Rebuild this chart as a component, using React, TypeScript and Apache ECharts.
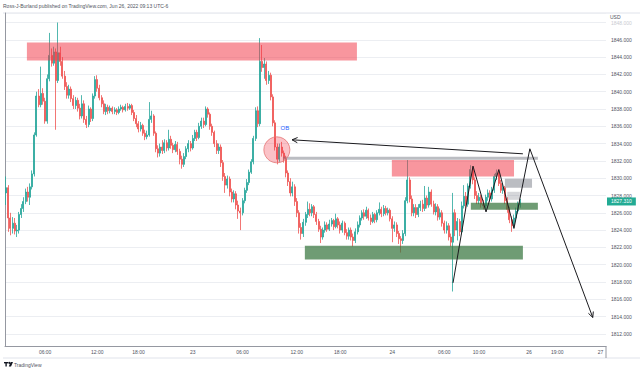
import React, { useEffect, useRef } from 'react';
import * as echarts from 'echarts';

// ---- data ----
const TOTAL_SLOTS = 277;
const lastPrice = 1827.31;

// [open, close, low, high] per 15-minute bar
const candles: number[][] = [
  [1828.3,1828.9,1826.9,1830.2],[1828.9,1825.4,1823.8,1829.2],[1825.4,1824.2,1823.4,1826.0],[1824.2,1824.8,1823.6,1825.5],
  [1824.8,1823.9,1823.5,1825.4],[1823.9,1824.0,1823.2,1824.6],[1824.0,1825.8,1823.6,1826.1],[1825.8,1826.5,1825.4,1827.0],
  [1826.5,1827.3,1826.1,1827.8],[1827.3,1828.4,1827.0,1828.8],[1828.4,1827.8,1827.3,1829.0],[1827.8,1829.0,1826.9,1829.4],
  [1829.0,1830.5,1828.7,1830.9],[1830.5,1835.0,1830.2,1835.3],[1835.0,1839.5,1834.8,1840.0],[1839.5,1838.5,1838.2,1840.3],
  [1838.5,1839.8,1838.2,1842.9],[1839.8,1838.9,1838.5,1840.4],[1838.9,1836.6,1836.3,1839.3],[1836.6,1841.5,1836.3,1842.0],
  [1841.5,1844.2,1841.2,1846.8],[1844.2,1843.3,1842.9,1845.0],[1843.3,1844.6,1843.0,1845.2],[1844.6,1841.3,1835.6,1845.0],
  [1841.3,1844.5,1841.0,1848.0],[1844.5,1843.5,1843.0,1845.2],[1843.5,1841.8,1841.5,1844.0],[1841.8,1840.6,1840.2,1842.4],
  [1840.6,1839.6,1839.2,1841.1],[1839.6,1840.3,1839.2,1840.8],[1840.3,1839.2,1838.8,1840.6],[1839.2,1838.4,1838.0,1839.6],
  [1838.4,1839.0,1838.0,1839.4],[1839.0,1838.1,1837.7,1839.3],[1838.1,1837.2,1836.8,1838.6],[1837.2,1838.6,1836.9,1839.6],
  [1838.6,1836.8,1836.4,1839.0],[1836.8,1836.2,1835.8,1837.2],[1836.2,1838.0,1835.9,1838.4],[1838.0,1836.9,1836.5,1838.2],
  [1836.9,1839.5,1836.6,1839.8],[1839.5,1841.4,1839.2,1841.8],[1841.4,1840.4,1840.0,1841.9],[1840.4,1839.3,1839.0,1840.8],
  [1839.3,1838.6,1838.2,1839.6],[1838.6,1837.7,1837.4,1839.0],[1837.7,1838.2,1837.3,1838.6],[1838.2,1837.8,1837.4,1838.5],
  [1837.8,1838.1,1837.5,1838.4],[1838.1,1837.7,1837.4,1838.3],[1837.7,1837.9,1837.4,1838.2],[1837.9,1837.6,1837.3,1838.1],
  [1837.6,1838.0,1837.4,1838.3],[1838.0,1838.2,1837.8,1838.5],[1838.2,1837.9,1837.6,1838.4],[1837.9,1838.3,1837.7,1838.6],
  [1838.3,1838.1,1837.8,1838.7],[1838.1,1838.4,1837.9,1838.6],[1838.4,1837.6,1837.3,1838.6],[1837.6,1836.9,1836.6,1837.9],
  [1836.9,1836.3,1835.9,1837.3],[1836.3,1835.7,1835.3,1836.6],[1835.7,1836.1,1835.4,1836.5],[1836.1,1835.2,1834.9,1836.3],
  [1835.2,1834.8,1834.4,1835.6],[1834.8,1835.0,1834.5,1835.5],[1835.0,1836.8,1834.8,1838.8],[1836.8,1837.2,1836.4,1837.8],
  [1837.2,1835.2,1834.9,1837.4],[1835.2,1833.4,1833.0,1835.4],[1833.4,1832.9,1832.4,1833.8],[1832.9,1833.6,1832.5,1834.0],
  [1833.6,1833.2,1832.8,1834.4],[1833.2,1834.1,1832.9,1834.5],[1834.1,1833.5,1833.1,1834.4],[1833.5,1834.5,1833.2,1835.6],
  [1834.5,1833.8,1833.4,1834.9],[1833.8,1833.3,1832.9,1834.1],[1833.3,1833.9,1833.0,1834.3],[1833.9,1833.1,1832.7,1834.2],
  [1833.1,1832.2,1831.6,1833.4],[1832.2,1831.6,1831.1,1832.6],[1831.6,1832.5,1831.3,1832.9],[1832.5,1833.4,1832.2,1833.7],
  [1833.4,1834.0,1833.0,1834.4],[1834.0,1833.5,1833.1,1834.3],[1833.5,1834.6,1833.3,1835.0],[1834.6,1835.3,1834.3,1835.6],
  [1835.3,1834.7,1834.3,1835.6],[1834.7,1836.0,1834.5,1836.4],[1836.0,1836.6,1835.7,1837.0],[1836.6,1836.2,1835.8,1837.0],
  [1836.2,1838.0,1836.0,1838.3],[1838.0,1837.4,1837.0,1838.2],[1837.4,1836.0,1835.6,1837.6],[1836.0,1835.3,1834.9,1836.3],
  [1835.3,1834.0,1833.6,1835.5],[1834.0,1833.2,1832.8,1834.4],[1833.2,1833.6,1832.8,1834.0],[1833.6,1831.8,1831.3,1833.9],
  [1831.8,1830.2,1829.7,1832.1],[1830.2,1829.2,1828.3,1830.6],[1829.2,1829.9,1828.8,1830.3],[1829.9,1828.4,1827.9,1830.2],
  [1828.4,1827.6,1827.2,1828.8],[1827.6,1828.2,1827.2,1828.6],[1828.2,1826.9,1826.4,1828.5],[1826.9,1826.2,1825.3,1827.4],
  [1826.2,1826.0,1824.0,1826.6],[1826.0,1827.4,1825.7,1827.7],[1827.4,1828.6,1827.1,1828.9],[1828.6,1829.5,1828.3,1829.9],
  [1829.5,1830.7,1829.2,1831.0],[1830.7,1831.9,1830.5,1832.2],[1831.9,1834.6,1831.6,1834.9],[1834.6,1837.8,1834.3,1838.2],
  [1837.8,1836.3,1835.9,1838.3],[1836.3,1843.5,1836.0,1846.2],[1843.5,1842.8,1842.3,1845.4],[1842.8,1843.2,1841.5,1843.9],
  [1843.2,1841.3,1840.8,1843.5],[1841.3,1841.9,1840.9,1842.4],[1841.9,1839.4,1839.0,1842.2],[1839.4,1836.4,1836.0,1839.7],
  [1836.4,1833.6,1833.2,1836.7],[1833.6,1832.2,1831.6,1834.0],[1832.2,1833.6,1831.9,1834.0],[1833.6,1832.9,1832.5,1834.2],
  [1832.9,1832.3,1831.8,1833.2],[1832.3,1830.6,1830.1,1832.6],[1830.6,1829.6,1829.1,1830.9],[1829.6,1828.3,1827.9,1830.0],
  [1828.3,1829.0,1827.9,1829.6],[1829.0,1827.3,1826.8,1829.3],[1827.3,1826.0,1825.5,1827.7],[1826.0,1824.3,1823.6,1826.3],
  [1824.3,1823.6,1822.9,1824.8],[1823.6,1824.9,1823.2,1825.3],[1824.9,1825.8,1824.5,1826.1],[1825.8,1826.4,1825.4,1827.3],
  [1826.4,1826.0,1825.6,1827.1],[1826.0,1826.7,1825.6,1827.0],[1826.7,1825.8,1825.4,1826.9],[1825.8,1825.0,1824.6,1826.1],
  [1825.0,1824.1,1823.8,1825.3],[1824.1,1823.2,1822.5,1824.5],[1823.2,1824.0,1822.9,1824.3],[1824.0,1824.6,1823.7,1825.0],
  [1824.6,1824.1,1823.8,1824.9],[1824.1,1824.7,1823.9,1825.2],[1824.7,1825.1,1824.4,1825.4],[1825.1,1824.4,1824.0,1825.3],
  [1824.4,1825.3,1824.2,1825.9],[1825.3,1824.6,1824.2,1825.5],[1824.6,1824.0,1823.6,1825.0],[1824.0,1824.8,1823.7,1825.1],
  [1824.8,1823.7,1823.4,1825.0],[1823.7,1823.3,1822.9,1824.1],[1823.3,1824.0,1822.9,1824.3],[1824.0,1823.2,1822.8,1824.3],
  [1823.2,1822.8,1822.1,1823.6],[1822.8,1823.8,1822.5,1824.2],[1823.8,1824.6,1823.5,1825.0],[1824.6,1825.4,1824.3,1825.7],
  [1825.4,1826.0,1825.1,1826.3],[1826.0,1825.6,1825.2,1826.4],[1825.6,1826.3,1825.3,1826.7],[1826.3,1825.4,1825.1,1826.5],
  [1825.4,1825.0,1824.6,1825.8],[1825.0,1825.8,1824.8,1826.1],[1825.8,1825.2,1824.8,1826.0],[1825.2,1826.0,1824.9,1826.3],
  [1826.0,1826.4,1825.7,1827.2],[1826.4,1825.9,1825.5,1826.7],[1825.9,1826.5,1825.6,1826.9],[1826.5,1826.0,1825.7,1826.8],
  [1826.0,1826.3,1825.7,1826.6],[1826.3,1825.3,1825.0,1826.5],[1825.3,1824.2,1822.6,1825.6],[1824.2,1824.6,1823.8,1825.0],
  [1824.6,1823.6,1823.2,1824.9],[1823.6,1823.0,1822.4,1823.9],[1823.0,1822.8,1821.4,1823.3],[1822.8,1823.6,1822.4,1824.0],
  [1823.6,1827.4,1823.3,1827.8],[1827.4,1829.8,1827.1,1832.1],[1829.8,1827.6,1827.2,1830.1],[1827.6,1826.0,1825.6,1828.0],
  [1826.0,1826.6,1825.6,1827.0],[1826.6,1825.8,1825.4,1827.0],[1825.8,1826.6,1825.5,1827.0],[1826.6,1827.0,1826.2,1827.4],
  [1827.0,1826.5,1826.1,1827.5],[1826.5,1827.7,1826.2,1829.1],[1827.7,1826.9,1826.5,1828.0],[1826.9,1828.4,1826.6,1829.0],
  [1828.4,1827.0,1826.7,1828.7],[1827.0,1826.1,1825.8,1827.4],[1826.1,1826.7,1825.7,1827.1],[1826.7,1825.5,1825.1,1827.0],
  [1825.5,1826.0,1825.2,1826.5],[1826.0,1824.8,1824.4,1826.3],[1824.8,1824.0,1823.6,1825.1],[1824.0,1824.5,1823.6,1825.0],
  [1824.5,1823.2,1822.8,1824.8],[1823.2,1822.6,1822.1,1823.6],[1822.6,1826.0,1816.9,1828.3],[1826.0,1824.0,1823.3,1826.4],
  [1824.0,1825.0,1822.8,1825.4],[1825.0,1823.8,1823.3,1825.3],[1823.8,1826.8,1823.5,1827.3],[1826.8,1827.9,1826.5,1829.2],
  [1827.9,1827.0,1826.5,1828.4],[1827.0,1829.1,1826.7,1829.4],[1829.1,1831.0,1828.8,1831.5],[1831.0,1829.8,1829.3,1831.3],
  [1829.8,1828.0,1827.6,1830.1],[1828.0,1827.4,1827.0,1828.5],[1827.4,1827.8,1827.0,1828.3],[1827.8,1827.0,1826.6,1828.1],
  [1827.0,1826.8,1826.4,1827.5],[1826.8,1827.8,1826.5,1828.1],[1827.8,1828.3,1827.4,1828.7],[1828.3,1827.6,1827.2,1828.6],
  [1827.6,1828.6,1827.3,1829.0],[1828.6,1830.2,1828.3,1830.5],[1830.2,1830.6,1829.8,1831.0],[1830.6,1829.4,1829.1,1830.9],
  [1829.4,1828.6,1828.3,1829.8],[1828.6,1828.9,1828.2,1829.4],[1828.9,1827.4,1827.0,1829.1],[1827.4,1826.4,1826.0,1827.8],
  [1826.4,1825.2,1824.8,1826.7],[1825.2,1824.5,1823.8,1825.6],[1824.5,1825.4,1824.2,1825.8],[1825.4,1826.2,1825.0,1826.6],
  [1826.2,1826.9,1825.9,1827.3],[1826.9,1827.31,1826.6,1827.6],
];

const xTickIndex = [18, 42, 61, 86, 109, 134, 154, 178, 202, 218, 241, 254, 274];
const xTickLabels = ['06:00', '12:00', '18:00', '23', '06:00', '12:00', '18:00', '24', '06:00', '10:00', '26', '19:00', '27'];

// drawings: [slotStart, slotEnd, priceLow, priceHigh]
const redZones = [[10.1, 162.2, 1843.6, 1845.7], [178.3, 234.6, 1830.2, 1832.1]];
const greenZones = [[214.7, 245.6, 1826.35, 1827.15], [138.2, 238.7, 1820.6, 1822.2]];
const grayZones = [[128.1, 245.6, 1832.13, 1832.47], [230.4, 242.9, 1828.9, 1829.93]];
const lightGrayZones = [[231.5, 237.3, 1827.5, 1828.43]];
// [slot, price] paths
const zigzagPath = [[206.5, 1817.9], [215.7, 1831.4], [221.7, 1826.1], [227.6, 1831.0], [234.6, 1824.2], [241.9, 1833.4], [270.9, 1813.9]];
const obArrowPath = [[238.7, 1832.82], [132.3, 1834.44]];
const obCircle = [125.3, 1833.28];
const obLabel = [129.0, 1835.82];

const FONT = '"Liberation Sans", Arial, sans-serif';

function zoneSeries(data: number[][], fill: string) {
  return {
    type: 'custom',
    xAxisIndex: 1,
    yAxisIndex: 0,
    silent: true,
    z: 3,
    data,
    encode: { x: [0, 1], y: [2, 3] },
    renderItem: (_p: any, api: any) => {
      const a = api.coord([api.value(0), api.value(3)]);
      const b = api.coord([api.value(1), api.value(2)]);
      return {
        type: 'rect',
        shape: { x: a[0], y: a[1], width: b[0] - a[0], height: b[1] - a[1] },
        style: { fill },
      };
    },
  };
}

function arrowSeries(path: number[][]) {
  return {
    type: 'custom',
    xAxisIndex: 1,
    yAxisIndex: 0,
    silent: true,
    z: 6,
    data: [path[0]],
    encode: { x: 0, y: 1 },
    renderItem: (_p: any, api: any) => {
      const pts = path.map((pt) => api.coord(pt));
      const tip = pts[pts.length - 1];
      const prev = pts[pts.length - 2];
      const ang = Math.atan2(prev[1] - tip[1], prev[0] - tip[0]);
      const L = 6;
      const h1 = [tip[0] + L * Math.cos(ang + 0.45), tip[1] + L * Math.sin(ang + 0.45)];
      const h2 = [tip[0] + L * Math.cos(ang - 0.45), tip[1] + L * Math.sin(ang - 0.45)];
      return {
        type: 'group',
        children: [
          { type: 'polyline', shape: { points: pts }, style: { stroke: '#1b1b1f', lineWidth: 1, fill: 'none' } },
          { type: 'polyline', shape: { points: [h1, tip, h2] }, style: { stroke: '#1b1b1f', lineWidth: 1, fill: 'none' } },
        ],
      };
    },
  };
}

export default function App() {
  const ref = useRef<HTMLDivElement>(null);

  useEffect(() => {
    if (!ref.current) return;
    const chart = echarts.init(ref.current, undefined, { renderer: 'svg' });
    const categories = Array.from({ length: TOTAL_SLOTS }, (_, i) => String(i));

    const option: any = {
      animation: false,
      backgroundColor: '#ffffff',
      textStyle: { fontFamily: FONT },
      grid: { left: 5, right: 34, top: 13, bottom: 27 },
      xAxis: [
        {
          type: 'category',
          data: categories,
          boundaryGap: true,
          axisLine: { show: true, lineStyle: { color: '#9598a1', width: 1 } },
          axisTick: { show: false },
          splitLine: { show: false },
          axisLabel: {
            interval: (idx: number) => xTickIndex.includes(idx),
            formatter: (_v: string, idx: number) => {
              const k = xTickIndex.indexOf(idx);
              return k >= 0 ? xTickLabels[k] : '';
            },
            fontSize: 5,
            color: '#50535e',
            margin: 3,
            fontFamily: FONT,
          },
        },
        { type: 'value', min: 0, max: TOTAL_SLOTS, show: false },
      ],
      yAxis: [
        {
          type: 'value',
          position: 'right',
          min: 1810.6,
          max: 1849.1,
          splitNumber: 19,
          axisLine: { show: true, lineStyle: { color: '#9598a1', width: 1 } },
          axisTick: { show: false },
          splitLine: { show: true, lineStyle: { color: '#eceef2', width: 1 } },
          axisLabel: {
            showMinLabel: false,
            showMaxLabel: false,
            fontSize: 5,
            color: '#50535e',
            margin: 5,
            fontFamily: FONT,
            formatter: (v: number) => (v >= 1848 ? `{f|${v.toFixed(3)}}` : v.toFixed(3)),
            rich: { f: { color: '#c9cbd1', fontSize: 5, fontFamily: FONT } },
          },
        },
      ],
      series: [
        {
          type: 'candlestick',
          xAxisIndex: 0,
          yAxisIndex: 0,
          data: candles,
          barWidth: 1.5,
          z: 2,
          itemStyle: {
            color: '#26a69a',
            color0: '#ef5350',
            borderColor: '#26a69a',
            borderColor0: '#ef5350',
            borderWidth: 0.8,
          },
          markLine: {
            silent: true,
            symbol: 'none',
            lineStyle: { color: 'rgba(0,0,0,0)', width: 0.1 },
            data: [{ yAxis: lastPrice }],
            label: {
              show: true,
              position: 'end',
              distance: 1,
              formatter: () => lastPrice.toFixed(3),
              backgroundColor: '#22ab94',
              color: '#ffffff',
              fontSize: 5,
              padding: [2, 4, 1, 4],
              fontFamily: FONT,
            },
          },
        },
        zoneSeries(redZones, 'rgba(242,54,69,0.52)'),
        zoneSeries(greenZones, 'rgba(56,118,62,0.72)'),
        zoneSeries(grayZones, 'rgba(120,123,134,0.5)'),
        zoneSeries(lightGrayZones, 'rgba(120,123,134,0.3)'),
        {
          type: 'custom',
          xAxisIndex: 1,
          yAxisIndex: 0,
          silent: true,
          z: 5,
          data: [obCircle],
          encode: { x: 0, y: 1 },
          renderItem: (_p: any, api: any) => {
            const c = api.coord([api.value(0), api.value(1)]);
            const t = api.coord(obLabel);
            return {
              type: 'group',
              children: [
                { type: 'circle', shape: { cx: c[0], cy: c[1], r: 13 }, style: { fill: 'rgba(242,54,69,0.3)', stroke: '#e57373', lineWidth: 0.8 } },
                { type: 'text', style: { text: 'OB', x: t[0], y: t[1], fill: '#2962ff', fontSize: 6, fontFamily: FONT, align: 'center', verticalAlign: 'middle' } },
              ],
            };
          },
        },
        arrowSeries(obArrowPath),
        arrowSeries(zigzagPath),
      ],
      graphic: [
        { type: 'line', silent: true, shape: { x1: 3, y1: 13, x2: 640, y2: 13 }, style: { stroke: '#e0e3eb', lineWidth: 1 } },
        { type: 'line', silent: true, shape: { x1: 3, y1: 358, x2: 640, y2: 358 }, style: { stroke: '#e0e3eb', lineWidth: 1 } },
        { type: 'line', silent: true, shape: { x1: 606, y1: 346, x2: 606, y2: 358 }, style: { stroke: '#9598a1', lineWidth: 1 } },
        {
          type: 'text', silent: true, left: 3, top: 3,
          style: { text: 'Ross-J-Burland published on TradingView.com, Jun 26, 2022 09:13 UTC-6', fill: '#50535e', fontSize: 5, fontFamily: FONT },
        },
        {
          type: 'text', silent: true, left: 610, top: 14,
          style: { text: 'USD', fill: '#50535e', fontSize: 5, fontFamily: FONT },
        },
        {
          type: 'group', silent: true, left: 4, top: 362,
          children: [
            { type: 'rect', shape: { x: 0, y: 0, width: 4, height: 1.4 }, style: { fill: '#131722' } },
            { type: 'rect', shape: { x: 1.4, y: 0, width: 1.4, height: 4.5 }, style: { fill: '#131722' } },
            { type: 'circle', shape: { cx: 5.2, cy: 0.9, r: 0.9 }, style: { fill: '#131722' } },
            { type: 'polygon', shape: { points: [[6.6, 0], [9, 0], [7, 4.5], [4.8, 4.5]] }, style: { fill: '#131722' } },
          ],
        },
        {
          type: 'text', silent: true, left: 14, top: 362,
          style: { text: 'TradingView', fill: '#50535e', fontSize: 5, fontFamily: FONT },
        },
      ],
    };

    chart.setOption(option);
    return () => chart.dispose();
  }, []);

  return (
    <div
      ref={ref}
      style={{ position: 'fixed', left: 0, top: 0, width: 640, height: 373, background: '#ffffff' }}
    />
  );
}
